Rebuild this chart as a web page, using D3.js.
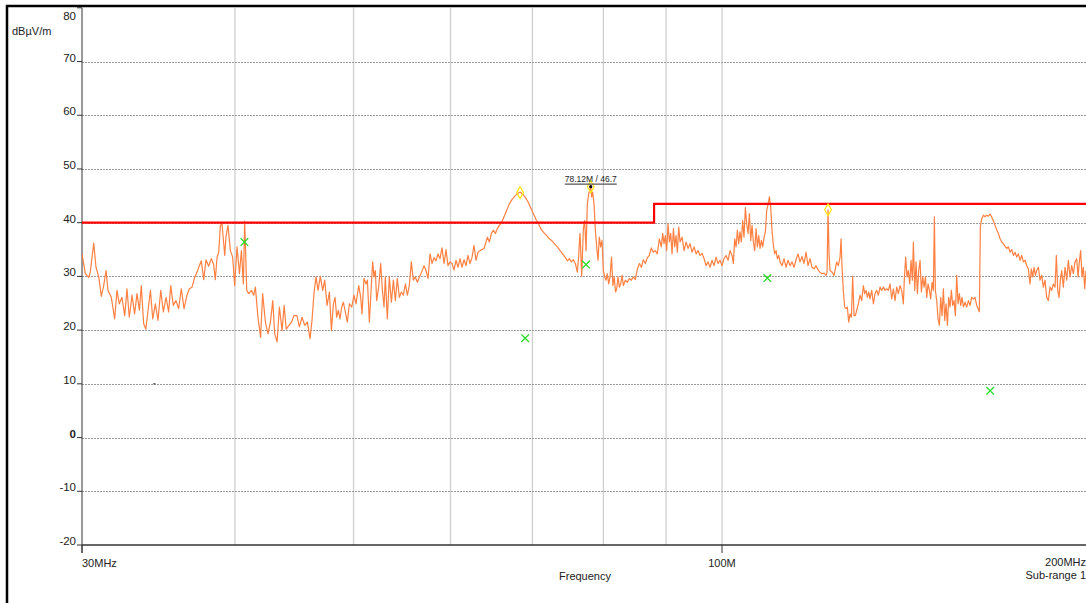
<!DOCTYPE html>
<html>
<head>
<meta charset="utf-8">
<script src="https://cdn.jsdelivr.net/npm/d3@7"></script>
<style>
  body { margin: 0; background: #fff; }
  svg { display: block; font-family: "Liberation Sans", Arial, sans-serif; }
</style>
</head>
<body>
<script>
var trace = [
  [30.00,34.2],[30.19,30.5],[30.38,29.8],[30.47,30.8],[30.67,36.2],[30.80,31.7],[30.96,29.9],[31.11,26.3],[31.25,28.3],[31.39,31.1],
  [31.50,27.4],[31.70,26.1],[31.90,22.1],[32.04,27.4],[32.18,24.9],[32.34,26.1],[32.51,22.7],[32.65,27.7],[32.79,22.4],[32.96,26.5],
  [33.12,23.0],[33.27,26.8],[33.42,23.7],[33.54,28.3],[33.69,21.2],[33.83,20.2],[33.97,23.7],[34.12,27.4],[34.27,22.1],[34.44,24.9],
  [34.61,21.8],[34.79,27.4],[34.96,23.4],[35.14,26.1],[35.31,23.4],[35.45,28.3],[35.62,24.6],[35.80,25.5],[35.98,24.0],[36.16,27.7],
  [36.35,24.0],[36.55,26.5],[36.71,27.7],[36.90,28.0],[37.08,29.8],[37.25,30.8],[37.41,32.0],[37.55,32.9],[37.72,29.4],[37.88,33.1],
  [38.07,31.9],[38.26,33.3],[38.43,32.2],[38.55,29.4],[38.68,33.6],[38.80,34.5],[38.92,39.5],[39.04,39.8],[39.24,33.9],[39.33,37.3],
  [39.48,39.5],[39.66,34.8],[39.83,33.6],[39.98,28.3],[40.16,35.5],[40.34,30.5],[40.49,34.8],[40.64,28.6],[40.74,40.3],[40.90,27.4],
  [41.05,26.8],[41.26,27.4],[41.44,26.5],[41.57,28.0],[41.77,22.4],[41.98,18.7],[42.14,26.8],[42.36,21.5],[42.57,19.3],[42.76,21.5],
  [42.95,25.5],[43.11,19.3],[43.30,17.8],[43.49,24.3],[43.71,19.9],[43.88,24.6],[44.05,20.2],[44.28,20.9],[44.50,21.5],[44.70,22.7],
  [44.95,22.7],[45.15,20.6],[45.38,22.4],[45.61,20.9],[45.84,21.5],[46.07,18.4],[46.24,21.8],[46.41,26.8],[46.59,29.9],[46.77,27.4],
  [46.97,30.0],[47.18,27.4],[47.36,29.3],[47.57,24.6],[47.78,27.1],[47.96,19.9],
  [48.14,24.9],[48.29,26.1],[48.44,22.4],[48.59,23.7],[48.74,22.1],[48.90,24.3],[49.05,25.2],[49.20,23.7],[49.42,21.5],[49.61,24.9],
  [49.83,24.3],[50.04,26.5],[50.23,24.9],[50.49,28.3],[50.68,26.1],[50.80,23.0],[50.99,29.6],[51.19,28.6],[51.32,29.3],[51.51,21.5],
  [51.71,28.6],[51.83,32.7],[51.96,29.9],[52.09,31.1],[52.22,25.5],[52.42,28.0],[52.62,32.4],[52.79,27.4],[52.95,24.3],[53.08,29.9],
  [53.28,22.1],[53.48,29.9],[53.69,25.2],[53.89,29.3],[54.09,25.5],[54.29,29.6],[54.50,26.1],[54.71,27.1],[54.91,26.5],[55.12,28.6],
  [55.33,26.5],[55.53,28.3],[55.74,32.7],[55.95,29.3],[56.16,29.9],[56.38,28.9],[56.59,29.9],[56.84,30.8],[57.09,32.0],[57.30,31.1],
  [57.52,29.6],[57.74,34.2],[57.95,32.4],[58.17,33.5],[58.39,32.9],[58.61,34.2],[58.83,33.3],[59.05,35.3],[59.28,32.4],[59.50,35.0],
  [59.72,32.0],[59.95,32.7],[60.17,32.4],[60.40,31.2],[60.63,33.0],[60.86,31.7],[61.09,33.3],[61.32,31.7],[61.55,33.1],[61.78,32.0],
  [62.01,33.9],[62.24,32.4],[62.48,33.5],[62.71,35.8],[62.95,33.0],[63.19,34.5],[63.43,34.8],[63.67,35.0],[63.91,35.2],[64.15,36.4],
  [64.32,37.3],[64.56,36.4],[64.80,38.0],[65.04,38.6],[65.29,38.0],[65.53,38.9],[65.78,39.5],[66.07,40.1],[66.36,41.1],[66.69,42.3],
  [67.03,43.5],[67.36,44.3],[67.75,45.0],[68.04,45.4],[68.39,45.7],[68.73,45.3],[69.07,44.7],[69.42,43.9],[69.77,42.8],[70.12,41.7],
  [70.48,40.6],[70.83,39.7],[71.19,38.7],[71.55,38.1],[71.91,37.6],[72.27,37.0],[72.64,36.6],[73.00,36.0],[73.37,35.5],[73.74,34.8],
  [74.10,34.2],[74.48,33.5],[74.76,32.9],[75.04,33.3],[75.32,32.7],[75.60,33.1],[75.89,32.4],[76.17,30.8],[76.36,33.6],[76.51,37.3],
  [76.56,38.0],[76.80,30.0],[77.04,38.9],[77.23,40.4],[77.43,34.8],[77.62,43.5],[77.82,45.4],[78.12,46.7],[78.25,44.8],[78.40,45.7],
  [78.60,43.5],[78.80,38.6],[79.00,35.5],[79.19,33.0],[79.39,37.3],[79.59,35.5],[79.79,36.7],[79.99,31.1],[80.19,29.9],[80.39,29.3],
  [80.59,30.5],[80.80,28.6],[81.00,29.9],[81.23,33.6],[81.44,28.3],[81.64,29.9],[81.85,27.1],[82.03,27.7],[82.23,29.9],[82.44,28.0],
  [82.65,28.6],[82.85,30.2],[83.06,28.3],[83.37,29.3],[83.69,28.9],[84.00,29.6],[84.32,29.3],[84.63,29.9],[84.96,29.4],[85.28,31.4],
  [85.60,32.4],[85.92,31.7],[86.24,33.1],[86.57,32.4],[86.90,33.5],[87.22,33.9],[87.55,35.3],[87.88,34.5],[88.21,34.8],[88.54,34.2],
  [88.88,37.0],[89.21,35.5],[89.44,38.0],[89.66,36.1],[89.89,37.6],[90.11,34.8],[90.34,39.8],[90.57,36.4],[90.80,38.0],[91.03,34.2],
  [91.26,38.9],[91.49,35.5],[91.71,37.6],[91.94,34.5],[92.18,39.2],[92.41,36.4],[92.76,37.3],[93.11,34.8],[93.46,36.4],[93.81,35.2],
  [94.16,36.1],[94.52,34.5],[94.88,35.5],[95.24,34.2],[95.59,34.8],[95.95,33.9],[96.31,34.3],[96.68,33.3],[97.04,32.0],[97.41,32.7],
  [97.77,31.7],[98.14,33.0],[98.51,32.0],[98.88,33.6],[99.25,32.4],[99.63,33.0],[100.00,32.0],[100.38,33.3],[100.76,33.9],[101.14,33.0],
  [101.52,34.8],[101.90,33.9],[102.15,32.4],[102.41,37.0],[102.67,35.5],[102.93,38.6],[103.19,36.1],[103.44,38.3],[103.70,36.4],[103.96,40.4],
  [104.22,37.3],[104.49,42.8],[104.75,39.8],[105.02,38.0],[105.28,41.7],[105.55,36.7],[105.81,39.5],[106.07,36.4],[106.34,34.8],[106.61,38.9],
  [106.88,35.5],[107.15,37.6],[107.41,35.2],[107.68,36.7],[107.95,35.5],[108.23,37.3],[108.50,38.3],[108.77,42.3],[109.05,43.5],[109.32,44.8],
  [109.59,42.9],[109.86,38.6],[110.14,35.8],[110.42,34.2],[110.70,34.8],[110.98,33.3],[111.26,33.9],[111.54,32.7],[111.95,32.0],[112.37,33.3],
  [112.80,31.7],[113.22,33.0],[113.65,32.0],[114.07,32.7],[114.51,31.7],[114.94,33.1],[115.37,34.2],[115.80,32.7],[116.24,33.7],[116.68,32.4],
  [117.12,34.5],[117.56,32.0],[118.00,33.3],[118.45,31.7],[118.90,31.4],[119.34,32.0],[119.79,31.2],[120.24,30.8],[120.70,30.5],[121.16,30.6],
  [121.62,30.2],[121.85,30.8],[122.07,42.4],[122.30,34.2],
  [122.53,31.1],[122.99,30.8],[123.45,30.2],[123.76,31.4],[124.07,32.7],[124.46,32.0],[124.86,33.6],[125.10,37.0],[125.33,31.7],[125.65,27.1],
  [125.95,24.3],[126.27,24.0],[126.59,24.3],[126.90,21.5],[127.22,23.0],[127.55,22.4],[127.86,30.0],[128.19,22.7],[128.51,22.7],[128.83,23.7],
  [129.24,24.9],[129.64,26.5],[130.05,25.5],[130.46,28.3],[130.79,26.8],[131.12,27.4],[131.44,26.1],[131.78,27.1],[132.10,25.8],[132.52,27.4],
  [132.94,24.9],[133.36,26.8],[133.77,27.4],[134.19,26.5],[134.61,28.0],[135.03,27.4],[135.46,28.0],[135.88,27.4],[136.31,27.7],[136.74,27.4],
  [137.17,28.6],[137.60,25.8],[138.03,27.7],[138.46,25.5],[138.90,28.0],[139.33,26.8],[139.77,28.3],[140.21,27.4],[140.65,24.9],[140.92,29.6],
  [141.27,33.6],[141.63,29.9],[141.98,31.1],[142.34,28.6],[142.70,33.0],[143.06,29.3],[143.33,36.4],[143.69,27.4],[144.05,32.7],[144.41,26.8],
  [144.78,31.1],[145.14,33.0],[145.50,27.1],[145.86,29.9],[146.23,28.0],[146.60,29.9],[146.97,26.1],[147.34,28.6],[147.73,27.4],[148.07,25.8],
  [148.45,28.9],[148.82,27.4],[149.10,41.1],[149.38,27.4],[149.76,25.5],[150.13,22.1],[150.51,20.9],[150.89,26.1],[151.27,22.7],[151.65,27.7],
  [152.03,21.8],[152.41,24.9],[152.80,20.9],[153.18,26.1],[153.56,24.3],[153.95,27.4],[154.33,24.6],[154.72,25.5],[155.11,22.7],[155.50,30.2],
  [155.89,24.9],[156.28,26.8],[156.68,24.6],[157.07,26.1],[157.47,24.3],[157.95,25.2],[158.45,24.3],[158.95,25.5],[159.44,24.6],[159.94,26.1],
  [160.45,25.8],[160.95,26.1],[161.46,24.6],[161.86,24.0],[162.26,23.4],[162.57,39.2],[162.98,40.7],[163.49,41.4],[164.01,41.1],[164.52,41.4],
  [165.04,41.2],[165.56,41.6],[166.07,41.1],[166.60,40.3],[167.13,39.5],[167.65,38.7],[168.18,38.0],[168.71,37.0],[169.24,36.4],[169.77,36.1],
  [170.31,35.6],[170.84,35.2],[171.38,35.5],[171.92,34.5],[172.45,35.0],[173.00,33.9],[173.55,34.5],[174.08,33.6],[174.63,34.2],[175.18,33.0],
  [175.73,33.9],[176.28,32.7],[176.83,33.0],[177.38,32.0],[177.93,31.4],[178.49,28.6],[178.94,31.4],[179.40,29.9],[179.84,31.7],[180.30,30.2],
  [180.75,31.1],[181.32,31.7],[181.89,29.3],[182.46,30.2],[183.03,28.0],[183.60,29.3],[184.17,26.1],[184.76,25.5],[185.34,28.0],[185.92,27.4],
  [186.50,28.6],[187.09,28.0],[187.56,33.9],[188.04,27.4],[188.50,26.1],[188.98,29.3],[189.45,31.1],[190.04,28.0],[190.64,31.7],[191.24,29.3],
  [191.85,33.0],[192.44,29.9],[193.05,32.0],[193.65,30.5],[194.26,32.7],[194.88,33.3],[195.37,29.9],[195.84,32.7],[196.33,34.8],[196.83,29.9],
  [197.33,31.7],[197.83,27.7],[198.32,31.1]
];

// limit line (step at 88 MHz)
var limitMHz = [30, 88, 88, 200];
var limitDb = [40, 40, 43.5, 43.5];

// peak markers
var peakMHz = [68.39, 78.12, 122.07];
var peakDb = [45.6, 46.7, 42.4];

// final (green x) measurements
var finalMHz = [40.72, 69.05, 77.43, 108.9, 165.6];
var finalDb = [36.4, 18.5, 32.2, 29.7, 8.7];

var yTicks = [80, 70, 60, 50, 40, 30, 20, 10, 0, -10, -20];
var xGrid = [40, 50, 60, 70, 80, 90, 100];

var width = 1086;
var height = 603;
var plotLeft = 82, plotRight = 1090.5, plotTop = 7.8, plotBottom = 545;

var svg = d3.select("body").append("svg")
    .attr("width", width)
    .attr("height", height);

var xScale = d3.scaleLog()
    .domain([30, 200])
    .range([plotLeft, plotRight]);

var yScale = d3.scaleLinear()
    .domain([-20, 80])
    .range([plotBottom, plotTop]);

svg.append("defs").append("clipPath")
    .attr("id", "plot")
    .append("rect")
    .attr("x", plotLeft)
    .attr("y", plotTop - 2)
    .attr("width", plotRight - plotLeft)
    .attr("height", plotBottom - plotTop + 2);

// vertical grid
svg.append("g")
    .selectAll("line")
    .data(xGrid)
    .enter()
    .append("line")
    .attr("x1", function(d){ return xScale(d); })
    .attr("x2", function(d){ return xScale(d); })
    .attr("y1", plotTop)
    .attr("y2", plotBottom)
    .attr("stroke", "#cfcfcf")
    .attr("stroke-width", 1.3);

// horizontal grid
svg.append("g")
    .selectAll("line")
    .data(yTicks.filter(function(d){ return d < 80 && d > -20; }))
    .enter()
    .append("line")
    .attr("x1", plotLeft)
    .attr("x2", width)
    .attr("y1", function(d){ return Math.round(yScale(d)) + 0.5; })
    .attr("y2", function(d){ return Math.round(yScale(d)) + 0.5; })
    .attr("stroke", "#9a9a9a")
    .attr("stroke-dasharray", "2,1")
    .attr("stroke-width", 1);

// y axis
var yAxis = svg.append("g");
yAxis.append("line")
    .attr("x1", plotLeft).attr("x2", plotLeft)
    .attr("y1", plotTop).attr("y2", plotBottom + 8)
    .attr("stroke", "#333")
    .attr("stroke-width", 1);

yAxis.selectAll(".tick")
    .data(yTicks)
    .enter()
    .append("line")
    .attr("x1", plotLeft - 5).attr("x2", plotLeft)
    .attr("y1", function(d){ return yScale(d); })
    .attr("y2", function(d){ return yScale(d); })
    .attr("stroke", "#333");

yAxis.selectAll("text")
    .data(yTicks)
    .enter()
    .append("text")
    .text(function(d){ return d; })
    .attr("x", plotLeft - 6)
    .attr("y", function(d){ return Math.max(yScale(d), 20); })
    .attr("text-anchor", "end")
    .attr("font-size", 11.5)
    .attr("font-weight", function(d){ return d === 0 ? "bold" : "normal"; })
    .attr("fill", "#222");

svg.append("text")
    .text("dBµV/m")
    .attr("x", 12)
    .attr("y", 35)
    .attr("font-size", 11)
    .attr("fill", "#222");

// x axis
var xAxis = svg.append("g");
xAxis.append("line")
    .attr("x1", plotLeft).attr("x2", width)
    .attr("y1", plotBottom).attr("y2", plotBottom)
    .attr("stroke", "#333")
    .attr("stroke-width", 1.6);

xAxis.selectAll(".tick")
    .data([30, 100, 200])
    .enter()
    .append("line")
    .attr("x1", function(d){ return xScale(d); })
    .attr("x2", function(d){ return xScale(d); })
    .attr("y1", plotBottom)
    .attr("y2", plotBottom + 8)
    .attr("stroke", "#333");

xAxis.append("text")
    .text("30MHz")
    .attr("x", xScale(30))
    .attr("y", 567)
    .attr("font-size", 11)
    .attr("fill", "#222");

xAxis.append("text")
    .text("100M")
    .attr("x", xScale(100))
    .attr("y", 567)
    .attr("text-anchor", "middle")
    .attr("font-size", 11)
    .attr("fill", "#222");

xAxis.append("text")
    .text("200MHz")
    .attr("x", width)
    .attr("y", 566)
    .attr("text-anchor", "end")
    .attr("font-size", 11)
    .attr("fill", "#222");

xAxis.append("text")
    .text("Frequency")
    .attr("x", 585)
    .attr("y", 580)
    .attr("text-anchor", "middle")
    .attr("font-size", 11)
    .attr("fill", "#222");

xAxis.append("text")
    .text("Sub-range 1")
    .attr("x", width)
    .attr("y", 579)
    .attr("text-anchor", "end")
    .attr("font-size", 11)
    .attr("fill", "#222");

var plot = svg.append("g").attr("clip-path", "url(#plot)");

// spectrum trace
var line = d3.line()
    .x(function(d){ return xScale(d[0]); })
    .y(function(d){ return yScale(d[1]); });

plot.append("path")
    .datum(trace)
    .attr("d", line)
    .attr("fill", "none")
    .attr("stroke", "#ff8040")
    .attr("stroke-width", 1.2)
    .attr("stroke-linejoin", "round");

// limit
var limit = limitMHz.map(function(f, i){ return [f, limitDb[i]]; });
plot.append("path")
    .datum(limit)
    .attr("d", line)
    .attr("fill", "none")
    .attr("stroke", "#ff0000")
    .attr("stroke-width", 2.2);

// peak diamonds
var diamond = d3.symbol().type(d3.symbolDiamond).size(40);
plot.selectAll(".peak")
    .data(peakMHz)
    .enter()
    .append("path")
    .attr("d", diamond)
    .attr("transform", function(d, i){
        return "translate(" + xScale(d) + "," + yScale(peakDb[i]) + ")";
    })
    .attr("fill", "none")
    .attr("stroke", "#ffe600")
    .attr("stroke-width", 1.2);

// final measurement crosses
var cross = d3.symbol().type(d3.symbolX).size(40);
plot.selectAll(".final")
    .data(finalMHz)
    .enter()
    .append("path")
    .attr("d", cross)
    .attr("transform", function(d, i){
        return "translate(" + xScale(d) + "," + yScale(finalDb[i]) + ")";
    })
    .attr("fill", "none")
    .attr("stroke", "#22dd22")
    .attr("stroke-width", 1.3);

// small dash marker
svg.append("line")
    .attr("x1", xScale(34.3)).attr("x2", xScale(34.45))
    .attr("y1", yScale(10)).attr("y2", yScale(10))
    .attr("stroke", "#222")
    .attr("stroke-width", 1);

// marker label for the highest peak
var mx = xScale(peakMHz[1]);
var my = yScale(peakDb[1]);
svg.append("circle")
    .attr("cx", mx)
    .attr("cy", my)
    .attr("r", 1.6)
    .attr("fill", "#000");

svg.append("text")
    .text("78.12M / 46.7")
    .attr("x", mx)
    .attr("y", my - 5)
    .attr("text-anchor", "middle")
    .attr("font-size", 8.5)
    .attr("fill", "#222");

svg.append("line")
    .attr("x1", mx - 26).attr("x2", mx + 26)
    .attr("y1", my - 2.5).attr("y2", my - 2.5)
    .attr("stroke", "#555")
    .attr("stroke-width", 1.2);

// outer frame
svg.append("line")
    .attr("x1", 7).attr("x2", 7)
    .attr("y1", 5).attr("y2", height)
    .attr("stroke", "#000")
    .attr("stroke-width", 2.5);

svg.append("line")
    .attr("x1", 6).attr("x2", width)
    .attr("y1", 6).attr("y2", 6)
    .attr("stroke", "#000")
    .attr("stroke-width", 2.5);
</script>
</body>
</html>
